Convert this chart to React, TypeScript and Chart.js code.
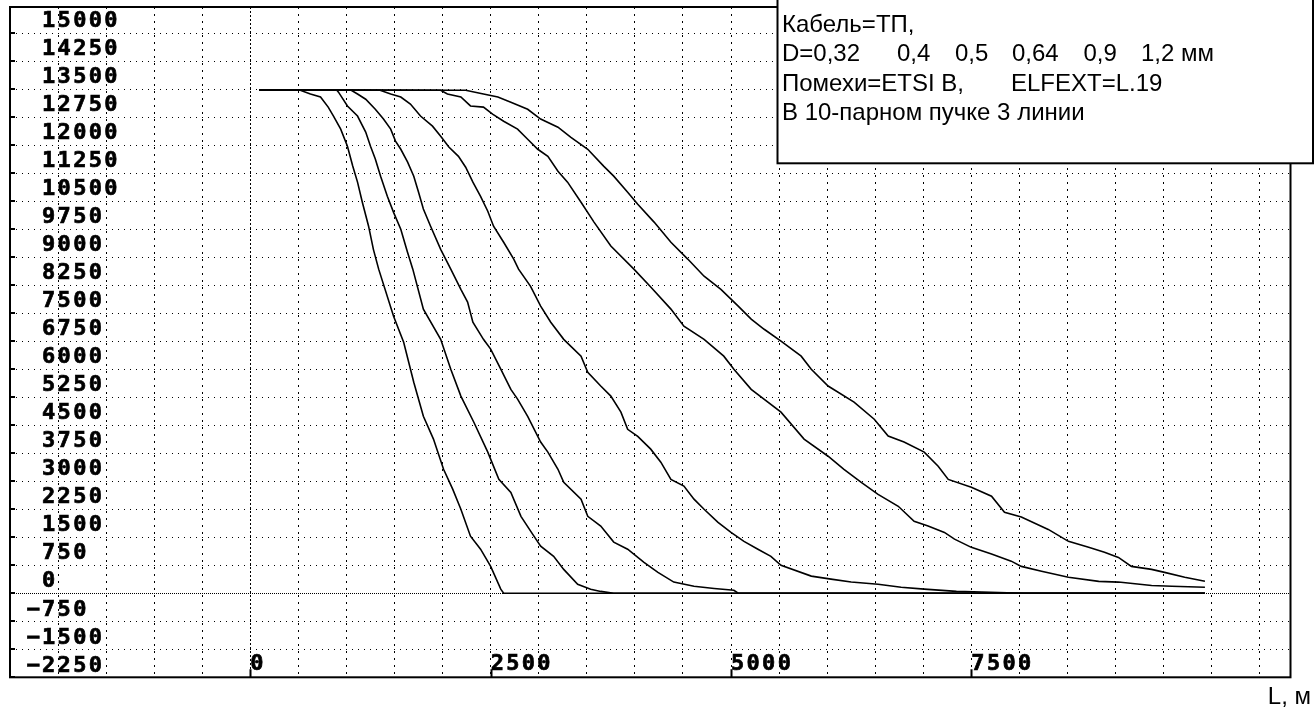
import React, { useEffect, useRef } from 'react';
import { Chart, registerables } from 'chart.js';

Chart.register(...registerables);

// ---- axis ticks ----
const yTickValues = [15000, 14250, 13500, 12750, 12000, 11250, 10500, 9750, 9000, 8250, 7500, 6750, 6000, 5250, 4500, 3750, 3000, 2250, 1500, 750, 0, -750, -1500, -2250];
const xGridValues = [-2500, -2000, -1500, -1000, -500, 0, 500, 1000, 1500, 2000, 2500, 3000, 3500, 4000, 4500, 5000, 5500, 6000, 6500, 7000, 7500, 8000, 8500, 9000, 9500, 10000, 10500];
const xLabelValues = [0, 2500, 5000, 7500];

// ---- series (length, m -> value) ----
const seriesNames = ['0,32', '0,4', '0,5', '0,64', '0,9', '1,2'];

const lenD032 = [90, 520, 625, 730, 810, 865, 940, 1010, 1065, 1115, 1165, 1230, 1280, 1335, 1490, 1595, 1700, 1800, 1905, 2010, 2105, 2190, 2290, 2395, 2500, 2605, 2635, 9930];
const valD032 = [13480, 13470, 13370, 13290, 13020, 12780, 12430, 11970, 11440, 11010, 10470, 9830, 9210, 8680, 7420, 6720, 5650, 4740, 4130, 3320, 2790, 2250, 1530, 1180, 720, 110, 0, 0];

const lenD04 = [90, 900, 917, 1010, 1115, 1200, 1250, 1300, 1355, 1425, 1490, 1565, 1635, 1690, 1800, 1980, 2085, 2190, 2325, 2470, 2585, 2710, 2815, 2950, 3020, 3155, 3260, 3405, 3540, 3645, 3780, 9930];
const valD04 = [13480, 13470, 13420, 13050, 12780, 12350, 11970, 11630, 11170, 10630, 10200, 9750, 9130, 8680, 7610, 6800, 6000, 5280, 4580, 3780, 3050, 2700, 2060, 1530, 1260, 990, 640, 240, 110, 50, 0, 0];

const lenD05 = [90, 1050, 1115, 1200, 1300, 1385, 1460, 1510, 1565, 1635, 1700, 1750, 1800, 1875, 1980, 2085, 2190, 2260, 2315, 2425, 2500, 2605, 2710, 2780, 2885, 3020, 3095, 3200, 3260, 3440, 3510, 3645, 3780, 3925, 4095, 4240, 4405, 4615, 4825, 5030, 5075, 9930];
const valD05 = [13480, 13470, 13370, 13230, 12960, 12700, 12430, 12110, 11890, 11550, 11170, 10740, 10290, 9830, 9210, 8680, 8140, 7800, 7260, 6800, 6540, 6000, 5460, 5200, 4740, 4050, 3780, 3320, 2970, 2520, 2060, 1800, 1370, 1180, 830, 560, 300, 190, 130, 80, 0, 0];

const lenD064 = [90, 1350, 1460, 1565, 1665, 1770, 1895, 1980, 2065, 2165, 2240, 2315, 2395, 2470, 2530, 2635, 2740, 2790, 2915, 3020, 3125, 3260, 3440, 3510, 3645, 3750, 3855, 3925, 4030, 4165, 4270, 4375, 4510, 4615, 4720, 4865, 5000, 5135, 5280, 5415, 5520, 5835, 6040, 6250, 6530, 6770, 7010, 7345, 8050, 9930];
const valD064 = [13480, 13470, 13370, 13290, 13100, 12780, 12510, 12240, 11950, 11700, 11410, 11010, 10630, 10230, 9830, 9400, 8950, 8680, 8220, 7690, 7260, 6800, 6350, 5920, 5550, 5280, 4850, 4390, 4200, 3860, 3510, 3050, 2870, 2520, 2250, 1900, 1630, 1390, 1180, 990, 750, 460, 380, 300, 240, 160, 110, 50, 0, 0];

const lenD09 = [90, 1980, 2050, 2190, 2290, 2425, 2520, 2635, 2780, 2885, 2990, 3095, 3200, 3300, 3440, 3575, 3750, 3990, 4165, 4375, 4510, 4720, 4925, 5030, 5210, 5520, 5760, 6010, 6175, 6355, 6530, 6740, 6905, 7050, 7220, 7325, 7500, 7710, 7915, 8020, 8230, 8510, 8825, 9030, 9375, 9585, 9930];
const valD09 = [13480, 13470, 13370, 13290, 13050, 13020, 12830, 12640, 12430, 12160, 11890, 11700, 11300, 11010, 10470, 9940, 9300, 8680, 8200, 7610, 7150, 6800, 6350, 6000, 5460, 4850, 4130, 3670, 3320, 2970, 2650, 2330, 1930, 1800, 1630, 1450, 1230, 1050, 860, 720, 590, 430, 320, 300, 210, 190, 160];

const lenD12 = [90, 2240, 2425, 2575, 2710, 2885, 3020, 3200, 3335, 3510, 3675, 3780, 3925, 4030, 4200, 4375, 4550, 4720, 4895, 5075, 5210, 5345, 5520, 5730, 5835, 6010, 6280, 6490, 6635, 6800, 7010, 7155, 7260, 7500, 7710, 7845, 8020, 8300, 8510, 8720, 8885, 9030, 9165, 9375, 9510, 9720, 9930];
const valD12 = [13480, 13470, 13370, 13290, 13150, 12960, 12700, 12480, 12210, 11890, 11440, 11170, 10740, 10420, 9940, 9400, 8950, 8490, 8140, 7690, 7340, 7070, 6750, 6350, 6000, 5550, 5120, 4660, 4210, 4050, 3780, 3400, 3050, 2840, 2600, 2170, 2040, 1710, 1390, 1230, 1100, 960, 720, 640, 560, 430, 320];

// ---- texts ----
const legendLine1 = 'Кабель=ТП,';
const legendLine2Parts = ['D=0,32', '0,4', '0,5', '0,64', '0,9', '1,2 мм'];
const legendLine3Parts = ['Помехи=ETSI B,', 'ELFEXT=L.19'];
const legendLine4 = 'В 10-парном пучке 3 линии';
const xAxisTitle = 'L, м';

const seriesLen = [lenD032, lenD04, lenD05, lenD064, lenD09, lenD12];
const seriesVal = [valD032, valD04, valD05, valD064, valD09, valD12];

const MONO = "'DejaVu Sans Mono', monospace";
const SANS = "'Liberation Sans', Arial, sans-serif";

const decorPlugin = {
  id: 'decor',
  beforeDraw(chart: any) {
    (chart.ctx as any).letterSpacing = '2.3px';
  },
  afterDraw(chart: any) {
    const { ctx, chartArea: a, scales } = chart;
    ctx.save();
    (ctx as any).letterSpacing = '0px';
    ctx.strokeStyle = '#000';
    ctx.lineWidth = 2;
    ctx.setLineDash([]);
    // small tick marks on the frame
    ctx.beginPath();
    for (const v of yTickValues) {
      const py = Math.round(scales.y.getPixelForValue(v));
      ctx.moveTo(a.left, py);
      ctx.lineTo(a.left + 5, py);
    }
    for (const v of xLabelValues) {
      const px = Math.round(scales.x.getPixelForValue(v)) + 0.5;
      ctx.moveTo(px, a.bottom);
      ctx.lineTo(px, a.bottom - 8);
    }
    ctx.stroke();
    // frame
    ctx.strokeRect(a.left, a.top, a.right - a.left, a.bottom - a.top);

    // annotation box
    ctx.fillStyle = '#fff';
    ctx.fillRect(777, -5, 536, 168);
    ctx.strokeRect(777.5, -5, 535.5, 168.3);
    ctx.fillStyle = '#000';
    ctx.font = `24px ${SANS}`;
    ctx.textAlign = 'left';
    ctx.textBaseline = 'alphabetic';
    ctx.fillText(legendLine1, 782, 31.5);
    const l2x = [782, 897, 955, 1012, 1083.5, 1141];
    legendLine2Parts.forEach((t, i) => ctx.fillText(t, l2x[i], 61));
    const l3x = [782, 1011];
    legendLine3Parts.forEach((t, i) => ctx.fillText(t, l3x[i], 90.5));
    ctx.fillText(legendLine4, 782, 120);

    // axis title
    ctx.textAlign = 'right';
    ctx.fillText(xAxisTitle, 1311, 703.5);
    ctx.restore();
  },
};

export default function App() {
  const canvasRef = useRef<HTMLCanvasElement | null>(null);

  useEffect(() => {
    const canvas = canvasRef.current;
    if (!canvas) return;
    const zeroFit = (s: any) => {
      if (s.isHorizontal()) s.height = 0; else s.width = 0;
      s.paddingLeft = 0; s.paddingRight = 0; s.paddingTop = 0; s.paddingBottom = 0;
    };
    const tickFont = { family: MONO, size: 22, weight: 'bold' };
    const chart = new Chart(canvas, {
      type: 'line',
      data: {
        datasets: seriesLen.map((xs, si) => ({
          label: seriesNames[si],
          data: xs.map((x, i) => ({ x, y: seriesVal[si][i] })),
          borderColor: '#000',
          backgroundColor: '#000',
          borderWidth: 1.6,
          pointRadius: 0,
          fill: false,
          tension: 0,
        })),
      },
      options: {
        animation: false,
        responsive: false,
        devicePixelRatio: 1,
        events: [],
        layout: { padding: { left: 10, top: 7, right: 24.5, bottom: 35.7 } },
        plugins: { legend: { display: false }, tooltip: { enabled: false }, title: { display: false } },
        scales: {
          x: {
            type: 'linear',
            position: 'bottom',
            min: -2500,
            max: 10820,
            afterBuildTicks: (s: any) => { s.ticks = xGridValues.map((v) => ({ value: v })); },
            afterFit: zeroFit,
            ticks: {
              mirror: true,
              align: 'start',
              padding: 0,
              autoSkip: false,
              maxRotation: 0,
              minRotation: 0,
              color: '#000',
              textStrokeColor: '#000',
              textStrokeWidth: 0.7,
              font: tickFont,
              callback: (v: any) => (xLabelValues.includes(Number(v)) ? String(v) : ''),
            },
            grid: { color: '#000', lineWidth: 1, drawTicks: false },
            border: { display: false, dash: (c: any) => (c && c.tick && c.tick.value === 0 ? [2, 2] : [2, 5]) },
          },
          y: {
            type: 'linear',
            position: 'left',
            min: -2250,
            max: 15700,
            afterBuildTicks: (s: any) => { s.ticks = yTickValues.map((v) => ({ value: v })); },
            afterFit: zeroFit,
            ticks: {
              mirror: true,
              padding: 16.5,
              labelOffset: -11.5,
              autoSkip: false,
              color: '#000',
              textStrokeColor: '#000',
              textStrokeWidth: 0.7,
              font: tickFont,
              callback: (v: any) => (Number(v) < 0 ? '\u2212' + Math.abs(Number(v)) : ' ' + v),
            },
            grid: { color: '#000', lineWidth: 1, drawTicks: false },
            border: { display: false, dash: (c: any) => (c && c.tick && c.tick.value === 0 ? [1, 1] : [1, 5]) },
          },
        },
      } as any,
      plugins: [decorPlugin],
    });
    return () => chart.destroy();
  }, []);

  return (
    <div style={{ position: 'absolute', left: 0, top: 0, width: 1315, height: 713, background: '#fff' }}>
      <canvas ref={canvasRef} width={1315} height={713} style={{ display: 'block' }} />
    </div>
  );
}
